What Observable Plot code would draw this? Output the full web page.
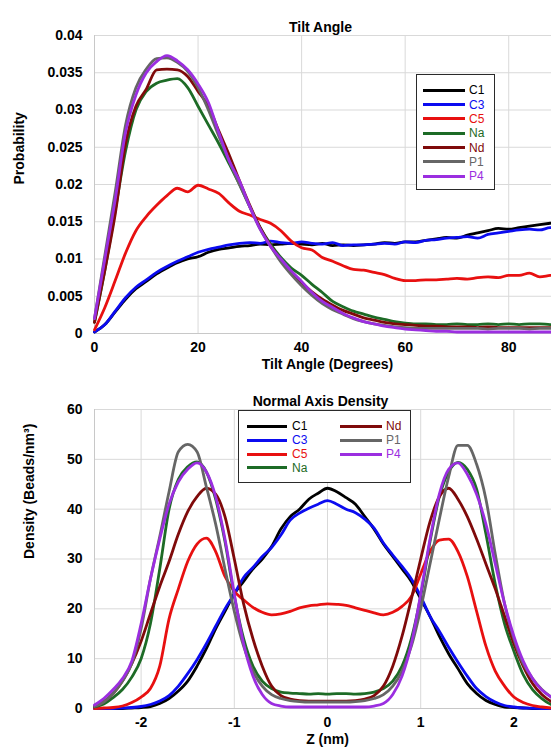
<!DOCTYPE html>
<html><head><meta charset="utf-8">
<script src="https://cdn.jsdelivr.net/npm/d3@7"></script>
<script src="https://cdn.jsdelivr.net/npm/@observablehq/plot@0.6"></script>
<style>
body{margin:0;background:#fff;}
#wrap{position:relative;width:551px;height:751px;overflow:hidden;background:#fff;font-family:"Liberation Sans",Arial,sans-serif;}
.chart{position:absolute;left:0;}
.legend{position:absolute;background:#fff;border:1.5px solid #2a2a2a;box-sizing:border-box;}
.legend .sw{position:absolute;height:3px;}
.legend .lab{position:absolute;font-size:12px;line-height:12px;height:12px;white-space:nowrap;}
</style></head>
<body><div id="wrap"></div>
<script>
const seriesNames = ["C1","C3","C5","Na","Nd","P1","P4"];
const seriesColors = ["#000000","#0b0bf0","#e81010","#1d6b26","#7f0a0a","#666666","#9b2ee0"];

// ---- Tilt Angle (top) ----
const tiltXTicks = [0,20,40,60,80];
const tiltYTicks = [0,0.005,0.01,0.015,0.02,0.025,0.03,0.035,0.04];
const tiltAngles = [0,2,4,6,8,10,12,14,16,18,20,22,24,26,28,30,32,34,36,38,40,42,44,46,48,50,52,54,56,58,60,62,64,66,68,70,72,74,76,78,80,82,84,86,88,90];
const tiltC1 = [0.0002,0.0012,0.0029,0.0046,0.0060,0.0070,0.0080,0.0088,0.0095,0.0100,0.0103,0.0109,0.0113,0.0115,0.0117,0.0118,0.0120,0.0119,0.0120,0.0121,0.0120,0.0119,0.0121,0.0118,0.0119,0.0118,0.0119,0.0120,0.0122,0.0121,0.0123,0.0123,0.0125,0.0127,0.0129,0.0128,0.0132,0.0135,0.0138,0.0141,0.0140,0.0142,0.0144,0.0146,0.0148,0.0150];
const tiltC3 = [0.0002,0.0012,0.0030,0.0048,0.0062,0.0072,0.0082,0.0090,0.0097,0.0103,0.0109,0.0113,0.0116,0.0119,0.0121,0.0122,0.0121,0.0124,0.0122,0.0121,0.0123,0.0121,0.0120,0.0122,0.0118,0.0119,0.0119,0.0120,0.0121,0.0120,0.0123,0.0122,0.0125,0.0126,0.0128,0.0129,0.0130,0.0128,0.0133,0.0135,0.0137,0.0139,0.0140,0.0139,0.0142,0.0142];
const tiltC5 = [0.0005,0.0035,0.0071,0.0108,0.0138,0.0157,0.0172,0.0185,0.0195,0.0190,0.0199,0.0194,0.0188,0.0175,0.0164,0.0159,0.0153,0.0148,0.0138,0.0124,0.0115,0.0112,0.0102,0.0097,0.0091,0.0086,0.0085,0.0082,0.0079,0.0074,0.0071,0.0071,0.0072,0.0072,0.0073,0.0074,0.0073,0.0075,0.0076,0.0075,0.0078,0.0078,0.0081,0.0076,0.0078,0.0079];
const tiltNa = [0.0015,0.0085,0.0165,0.0245,0.0300,0.0325,0.0336,0.0340,0.0342,0.0330,0.0305,0.0280,0.0255,0.0228,0.0200,0.0170,0.0142,0.0120,0.0102,0.0088,0.0078,0.0066,0.0055,0.0043,0.0036,0.0030,0.0026,0.0022,0.0019,0.0016,0.0014,0.0013,0.0013,0.0012,0.0012,0.0013,0.0012,0.0012,0.0013,0.0012,0.0013,0.0012,0.0013,0.0013,0.0012,0.0013];
const tiltNd = [0.0015,0.0085,0.0160,0.0255,0.0305,0.0328,0.0354,0.0355,0.0354,0.0345,0.0325,0.0305,0.0272,0.0240,0.0205,0.0172,0.0142,0.0118,0.0099,0.0082,0.0068,0.0056,0.0046,0.0038,0.0031,0.0026,0.0021,0.0018,0.0015,0.0013,0.0012,0.0011,0.0010,0.0010,0.0009,0.0009,0.0009,0.0008,0.0009,0.0008,0.0008,0.0008,0.0008,0.0008,0.0008,0.0008];
const tiltP1 = [0.0020,0.0105,0.0190,0.0280,0.0330,0.0355,0.0369,0.0370,0.0364,0.0352,0.0330,0.0300,0.0265,0.0232,0.0200,0.0170,0.0140,0.0117,0.0096,0.0079,0.0064,0.0051,0.0040,0.0032,0.0026,0.0020,0.0016,0.0013,0.0011,0.0009,0.0008,0.0007,0.0007,0.0007,0.0007,0.0007,0.0007,0.0007,0.0006,0.0007,0.0007,0.0007,0.0006,0.0007,0.0007,0.0007];
const tiltP4 = [0.0020,0.0100,0.0180,0.0270,0.0320,0.0350,0.0365,0.0373,0.0366,0.0354,0.0335,0.0310,0.0270,0.0232,0.0205,0.0170,0.0140,0.0117,0.0100,0.0084,0.0070,0.0055,0.0043,0.0035,0.0027,0.0021,0.0016,0.0013,0.0010,0.0008,0.0006,0.0005,0.0004,0.0003,0.0003,0.0002,0.0002,0.0002,0.0002,0.0002,0.0002,0.0002,0.0002,0.0002,0.0002,0.0002];

// ---- Normal Axis Density (bottom) ----
const densXTicks = [-2,-1,0,1,2];
const densYTicks = [0,10,20,30,40,50,60];
const zPositions = [-2.5,-2.4,-2.3,-2.2,-2.1,-2.0,-1.9,-1.8,-1.7,-1.6,-1.5,-1.4,-1.3,-1.2,-1.1,-1.0,-0.9,-0.8,-0.7,-0.6,-0.5,-0.4,-0.3,-0.2,-0.1,0,0.1,0.2,0.3,0.4,0.5,0.6,0.7,0.8,0.9,1.0,1.1,1.2,1.3,1.4,1.5,1.6,1.7,1.8,1.9,2.0,2.1,2.2,2.3,2.4,2.5];
const densC1 = [0,0,0,0,0.1,0.2,0.4,1.0,2.0,3.5,5.5,8.5,12,16,19.5,23,25.5,28,30,32.5,36,38.5,40,42,43.2,44.2,43.5,42.3,41,38.5,36,33,30.5,28,25.5,22,18.5,14.5,11,8,5,3,1.6,0.8,0.3,0.2,0.1,0,0,0,0];
const densC3 = [0,0,0,0.1,0.2,0.4,0.8,1.5,2.6,4.5,7,9.8,13,16.5,20,23,26.3,28.3,30.5,32.3,34.8,37.8,39.2,40.2,41,41.7,41,40,39.3,38,36.2,33.2,30.8,28.5,26,22.5,18.5,15.5,12.3,9.3,6.5,4,2.4,1.3,0.6,0.3,0.1,0.05,0,0,0];
const densC5 = [0,0.1,0.2,0.5,1.2,2.3,4,8.5,18,24,29.5,33,34.2,31.5,26.5,23.5,21.8,20.3,19.3,18.8,19,19.5,20.2,20.6,20.8,21,20.9,20.7,20.2,19.7,19.2,18.8,19.3,20.5,22.5,27,31.5,33.8,34,31.5,26.5,19.5,12.5,7.5,4.5,2.3,1.2,0.6,0.3,0.1,0];
const densNa = [0.3,0.9,2.2,3.8,6.3,10,17,28,40,46,48.5,49.5,47.5,42,33.5,22.5,14,8.5,5.5,4,3.3,3.1,3,2.9,3,2.9,3,3,2.9,3,3.3,4,5.5,8.5,14,22.5,33.5,42.5,47.5,49.4,48,44,35,25,17,11.5,6.8,3.8,2,0.8,0.3];
const densNd = [0.5,1.4,3,5.5,9,13.5,19,24.5,29.5,35,39.5,42.5,44.2,43,38.5,30,21,14,8.5,4.5,2.6,1.9,1.6,1.5,1.5,1.5,1.5,1.5,1.6,1.9,2.6,4.5,8.5,14.5,22,30,37.5,42.5,44.2,42,38.5,34,29,24,18.5,13,8.5,5,2.8,1.4,0.6];
const densP1 = [0.4,1.3,3,5.5,9,16,26,34.5,43.5,51.5,53,51.5,44.5,37,28,19.5,12.5,7.5,4.5,2.8,2,1.6,1.4,1.3,1.3,1.3,1.3,1.3,1.4,1.6,2,2.8,4.5,7.5,12.5,20,29,38,46.5,52.8,52.8,49,42,31,21,14,9,6,3.8,2.3,1.2];
const densP4 = [0.7,2,3.8,6,9.5,17,26,34,41,45.5,48,49.3,47.5,42.5,34,23,13,6.5,2.8,1,0.5,0.3,0.3,0.3,0.3,0.3,0.3,0.3,0.3,0.3,0.5,1,2.8,6.5,13,23,34,43,48,49.3,47,43,37,29,21,14.5,9.5,6,3.7,2.3,1.2];

const tiltBySeries = {C1:tiltC1, C3:tiltC3, C5:tiltC5, Na:tiltNa, Nd:tiltNd, P1:tiltP1, P4:tiltP4};
const densBySeries = {C1:densC1, C3:densC3, C5:densC5, Na:densNa, Nd:densNd, P1:densP1, P4:densP4};

const tiltData = seriesNames.flatMap(s => tiltAngles.map((x, i) => ({x, y: tiltBySeries[s][i], series: s})));
const densData = seriesNames.flatMap(s => zPositions.map((x, i) => ({x, y: densBySeries[s][i], series: s})));

const wrap = document.getElementById("wrap");
const baseStyle = {fontFamily: "'Liberation Sans', Arial, sans-serif", fontSize: "14px", fontWeight: "bold", maxWidth: "none", background: "transparent", color: "#000"};
const grid = {stroke: "#d9d9d9", strokeOpacity: 1, strokeWidth: 1};
const fmt = d => String(d);

const topChart = Plot.plot({
  width: 561, height: 380,
  marginLeft: 94, marginRight: 1, marginTop: 35, marginBottom: 47,
  style: baseStyle,
  x: {domain: [0, 90]},
  y: {domain: [0, 0.04]},
  color: {domain: seriesNames, range: seriesColors},
  marks: [
    Plot.gridX(tiltXTicks, grid),
    Plot.gridY(tiltYTicks, grid),
    Plot.ruleX([0], {stroke: "#c8c8c8"}),
    Plot.ruleY([0], {stroke: "#c8c8c8"}),
    Plot.line(tiltData, {x: "x", y: "y", z: "series", stroke: "series", strokeWidth: 2.8, curve: "monotone-x"}),
    Plot.axisX(tiltXTicks, {tickSize: 0, tickPadding: 9, label: null, tickFormat: fmt}),
    Plot.axisY(tiltYTicks, {tickSize: 0, tickPadding: 12, label: null, tickFormat: fmt}),
    Plot.text(["Tilt Angle"], {frameAnchor: "top", dx: -7, dy: -13}),
    Plot.text(["Tilt Angle (Degrees)"], {frameAnchor: "bottom", dy: 35.5}),
    Plot.text(["Probability"], {frameAnchor: "left", dx: -75, rotate: -90})
  ]
});
topChart.classList.add("chart");
topChart.style.top = "0px";
wrap.appendChild(topChart);

const bottomChart = Plot.plot({
  width: 561, height: 376,
  marginLeft: 94, marginRight: 1, marginTop: 34, marginBottom: 43,
  style: baseStyle,
  x: {domain: [-2.5, 2.5]},
  y: {domain: [0, 60]},
  color: {domain: seriesNames, range: seriesColors},
  marks: [
    Plot.gridX(densXTicks, grid),
    Plot.gridY(densYTicks, grid),
    Plot.ruleX([-2.5], {stroke: "#c8c8c8"}),
    Plot.ruleY([0], {stroke: "#c8c8c8"}),
    Plot.line(densData, {x: "x", y: "y", z: "series", stroke: "series", strokeWidth: 2.8, curve: "monotone-x"}),
    Plot.axisX(densXTicks, {tickSize: 0, tickPadding: 9, label: null, tickFormat: fmt}),
    Plot.axisY(densYTicks, {tickSize: 0, tickPadding: 12, label: null, tickFormat: fmt}),
    Plot.text(["Normal Axis Density"], {frameAnchor: "top", dx: -7, dy: -13}),
    Plot.text(["Z (nm)"], {frameAnchor: "bottom", dy: 35.5}),
    Plot.text(["Density (Beads/nm³)"], {frameAnchor: "left", dx: -65, rotate: -90})
  ]
});
bottomChart.classList.add("chart");
bottomChart.style.top = "375px";
wrap.appendChild(bottomChart);

// ---- legends (HTML) ----
function legend(box, columns) {
  const el = document.createElement("div");
  el.className = "legend";
  Object.assign(el.style, {left: box.left + "px", top: box.top + "px", width: box.width + "px", height: box.height + "px"});
  for (const col of columns) {
    col.names.forEach((name, i) => {
      const color = seriesColors[seriesNames.indexOf(name)];
      const cy = col.y0 + i * col.step;
      const sw = document.createElement("div");
      sw.className = "sw";
      Object.assign(sw.style, {left: col.x1 + "px", width: (col.x2 - col.x1) + "px", top: (cy - 1.5) + "px", background: color});
      const lab = document.createElement("div");
      lab.className = "lab";
      lab.textContent = name;
      Object.assign(lab.style, {left: col.tx + "px", top: (cy - 6) + "px", color});
      el.appendChild(sw); el.appendChild(lab);
    });
  }
  wrap.appendChild(el);
}
legend({left: 416, top: 74, width: 79, height: 116},
  [{names: seriesNames, x1: 6, x2: 48, tx: 52, y0: 15.2, step: 14.33}]);
legend({left: 238, top: 410, width: 173, height: 73},
  [{names: ["C1","C3","C5","Na"], x1: 8, x2: 48, tx: 53, y0: 15.2, step: 13.9},
   {names: ["Nd","P1","P4"], x1: 101, x2: 143, tx: 147, y0: 15.2, step: 13.9}]);
</script>
</body></html>
